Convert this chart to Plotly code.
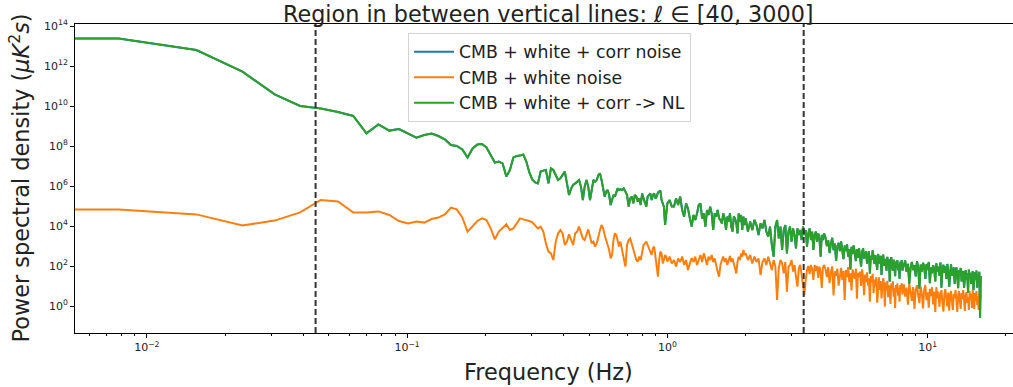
import plotly.graph_objects as go

# ---------------- data (frequencies in Hz, PSD read in decades: log10(uK^2 s)) ----------------
# first entry stands for the DC bin (drawn off the left edge, as matplotlib does with f=0)
freq_low_hz = [0.004, 0.0078, 0.0155, 0.0233, 0.0310, 0.0388, 0.0466, 0.0543, 0.0621, 0.0698, 0.0776,
               0.0854, 0.0931, 0.1009, 0.1086, 0.1164, 0.1242, 0.1319, 0.1397, 0.1474, 0.1552,
               0.1630, 0.1707, 0.1785, 0.1862, 0.1940, 0.2018, 0.2095, 0.2173, 0.2250, 0.2328,
               0.2406, 0.2483, 0.2561, 0.2638, 0.2716, 0.2794, 0.2871, 0.2949, 0.3026, 0.3104,
               0.3182, 0.3259, 0.3337, 0.3414, 0.3492, 0.3570, 0.3647, 0.3725, 0.3802, 0.3880,
               0.3958, 0.4035, 0.4113, 0.4190, 0.4268, 0.4346, 0.4423, 0.4501, 0.4578, 0.4656,
               0.4734, 0.4811, 0.4889, 0.4966, 0.5044, 0.5122, 0.5199, 0.5277, 0.5354, 0.5432,
               0.5510, 0.5587, 0.5665, 0.5742, 0.5820, 0.5898, 0.5975, 0.6053, 0.6130, 0.6208,
               0.6286, 0.6363, 0.6441, 0.6518]

freq_high_hz = [0.66, 0.67, 0.68, 0.69, 0.70, 0.71, 0.72, 0.73, 0.74, 0.75, 0.76, 0.77, 0.78, 0.79, 0.80,
                0.81, 0.82, 0.83, 0.84, 0.85, 0.86, 0.87, 0.88, 0.89, 0.90, 0.91, 0.92, 0.93, 0.94, 0.95,
                0.96, 0.97, 0.98, 0.99, 1.00,
                1.02, 1.04, 1.06, 1.08, 1.10, 1.12, 1.14, 1.16, 1.18, 1.20, 1.22, 1.24, 1.26, 1.28, 1.30,
                1.32, 1.34, 1.36, 1.38, 1.40, 1.42, 1.44, 1.46, 1.48, 1.50, 1.52, 1.54, 1.56, 1.58, 1.60,
                1.62, 1.64, 1.66, 1.68, 1.70, 1.72, 1.74, 1.76, 1.78, 1.80, 1.82, 1.84, 1.86, 1.88, 1.90,
                1.92, 1.94, 1.96, 1.98, 2.00,
                2.04, 2.08, 2.12, 2.16, 2.20, 2.24, 2.28, 2.32, 2.36, 2.40, 2.44, 2.48, 2.52, 2.56, 2.60,
                2.64, 2.68, 2.72, 2.76, 2.80, 2.84, 2.88, 2.92, 2.96, 3.00, 3.04, 3.08, 3.12, 3.16, 3.20,
                3.24, 3.28, 3.32, 3.36, 3.40, 3.44, 3.48, 3.52, 3.56, 3.60, 3.64, 3.68, 3.72, 3.76, 3.80,
                3.84, 3.88, 3.92, 3.96, 4.00,
                4.05, 4.10, 4.15, 4.20, 4.25, 4.30, 4.35, 4.40, 4.45, 4.50, 4.55, 4.60, 4.65, 4.70, 4.75,
                4.80, 4.85, 4.90, 4.95, 5.00, 5.05, 5.10, 5.15, 5.20, 5.25, 5.30, 5.35, 5.40, 5.45, 5.50,
                5.55, 5.60, 5.65, 5.70, 5.75, 5.80, 5.85, 5.90, 5.95, 6.00, 6.05, 6.10, 6.15, 6.20, 6.25,
                6.30, 6.35, 6.40, 6.45, 6.50, 6.55, 6.60, 6.65, 6.70, 6.75, 6.80, 6.85, 6.90, 6.95, 7.00,
                7.05, 7.10, 7.15, 7.20, 7.25, 7.30, 7.35, 7.40, 7.45, 7.50, 7.55, 7.60, 7.65, 7.70, 7.75,
                7.80, 7.85, 7.90, 7.95, 8.00,
                8.1, 8.2, 8.3, 8.4, 8.5, 8.6, 8.7, 8.8, 8.9, 9.0, 9.1, 9.2, 9.3, 9.4, 9.5, 9.6, 9.7, 9.8,
                9.9, 10.0, 10.1, 10.2, 10.3, 10.4, 10.5, 10.6, 10.7, 10.8, 10.9, 11.0, 11.1, 11.2, 11.3,
                11.4, 11.5, 11.6, 11.7, 11.8, 11.9, 12.0, 12.1, 12.2, 12.3, 12.4, 12.5, 12.6, 12.7, 12.8,
                12.9, 13.0, 13.1, 13.2, 13.3, 13.4, 13.5, 13.6, 13.7, 13.8, 13.9, 14.0, 14.1, 14.2, 14.3,
                14.4, 14.5, 14.6, 14.7, 14.8, 14.9, 15.0, 15.1, 15.2, 15.3, 15.4, 15.5, 15.6, 15.7, 15.8,
                15.9, 16.0]

# CMB + white + corr -> NL  (green); the blue series lies exactly underneath it
nl_log10_low = [13.38, 13.38, 12.8, 11.72, 10.58, 10.0, 9.88, 9.7, 9.5, 8.63, 9.08,
                8.77, 8.85, 8.63, 8.42, 8.55, 8.62, 8.5, 8.33, 8.05, 8.0,
                7.83, 7.42, 7.88, 8.08, 8.1, 7.93, 7.55, 7.17, 7.22, 7.13,
                6.47, 6.8, 7.43, 7.5, 7.52, 7.58, 7.22, 6.68, 6.33, 6.18,
                6.13, 6.72, 6.77, 6.8, 6.13, 6.88, 6.8, 6.55, 6.3, 6.38,
                6.55, 6.72, 6.13, 5.55, 5.88, 6.05, 6.13, 6.22, 6.3, 5.97,
                5.3, 5.97, 6.3, 5.97, 5.3, 5.8, 6.3, 6.22, 6.3, 6.55,
                6.63, 6.3, 5.8, 5.47, 5.72, 5.8, 5.55, 5.05, 5.3, 5.55,
                5.47, 5.72, 5.88, 5.8]
nl_log10_high = [5.83, 5.8, 5.88, 5.72, 5.55, 4.97, 5.38, 5.47, 5.13, 5.55,
                 5.47, 5.22, 5.38, 5.05, 5.63, 5.38, 5.13, 4.97, 5.47, 5.55,
                 5.63, 5.3, 5.55, 5.63, 5.38, 5.47, 5.67, 5.72, 5.77, 5.3,
                 5.13, 4.97, 4.05, 4.8, 5.13,
                 5.3, 4.97, 4.97, 5.38, 5.05, 5.47, 4.8, 4.47, 5.13, 4.88,
                 4.38, 3.97, 4.55, 4.3, 4.63, 5.05, 5.13, 4.38, 4.63, 3.97,
                 4.8, 4.55, 4.97, 4.63, 3.8, 4.63, 4.47, 4.8, 4.38, 4.3,
                 4.13, 4.63, 4.38, 3.8, 4.47, 4.22, 4.63, 3.97, 3.72, 4.47,
                 4.38, 4.13, 3.63, 4.63, 4.22, 4.55, 3.8, 4.47, 4.05, 4.38,
                 3.72, 4.22, 3.8, 4.3, 4.05, 3.55, 4.13, 3.88, 4.3, 3.72,
                 3.47, 3.97, 3.05, 2.47, 3.97, 4.3, 3.38, 3.97, 2.8, 3.8,
                 4.05, 2.63, 3.72, 3.97, 3.22, 3.88, 3.55, 2.88, 3.88, 3.55,
                 3.8, 3.3, 3.97, 3.55, 3.8, 2.97, 3.63, 3.88, 3.3, 3.72,
                 2.8, 3.55, 3.72, 3.22, 3.63, 3.38, 2.47, 3.55, 3.3, 3.63,
                 3.42, 3.0, 3.28, 2.65, 3.13, 3.41, 2.79, 3.12, 2.25, 2.98,
                 3.16, 2.74, 3.23, 2.86, 2.34, 3.02, 2.75, 3.08, 2.47, 2.85,
                 1.83, 2.96, 2.6, 3.03, 2.71, 2.25, 2.83, 2.41, 2.9, 2.53,
                 1.97, 2.7, 2.88, 2.37, 2.6, 2.74, 2.12, 2.46, 2.74, 1.63,
                 2.51, 2.3, 2.78, 2.42, 2.11, 2.54, 2.28, 1.81, 2.6, 2.39,
                 2.12, 2.51, 1.55, 2.23, 2.57, 2.01, 2.34, 2.23, 1.77, 2.46,
                 2.04, 2.33, 1.22, 2.21, 2.44, 2.03, 1.77, 2.31, 2.1, 1.49,
                 2.22, 1.91, 2.3, 1.79, 2.08, 1.37, 2.21, 1.95, 2.29, 1.78,
                 2.02, 2.27, 1.71, 2.11, 1.1, 1.9, 2.2, 1.79, 2.04, 1.48,
                 2.23, 1.93, 0.87, 2.07, 1.72, 2.16, 1.96, 1.36, 2.1, 1.8,
                 2.2, 1.14, 1.94, 1.64, 2.04, 1.83, 1.23, 2.13, 1.72, 1.97,
                 1.52, 2.17, 0.91, 1.86, 2.06, 1.66, 2.0, 1.35, 2.1, 1.78,
                 0.96, 1.9, 2.08, 1.51, 1.79, 1.93, 1.11, 1.65, 1.93, 1.51,
                 0.89, 1.78, 1.61, 1.9, 1.23, 1.62, 1.75, 0.9, 1.44, 1.79,
                 1.33, 1.63, 0.67, 1.82, 1.46, 1.66, 1.1, 1.55, 1.74, 0.79,
                 1.49, 1.68, 1.33, 1.77, 0.92, 1.56, 1.41, 1.71, -0.6, 1.5]

# CMB + white noise (orange)
white_log10_low = [4.83, 4.83, 4.58, 4.03, 4.27, 4.68, 5.3, 5.23, 4.67, 4.67, 4.73,
                   4.55, 4.25, 4.13, 4.22, 4.17, 4.35, 4.42, 4.58, 4.92, 4.83,
                   4.43, 3.72, 3.97, 4.25, 4.38, 4.3, 3.88, 3.33, 3.72, 3.88,
                   4.08, 3.8, 3.88, 4.13, 4.38, 4.33, 4.3, 4.25, 4.18, 4.05,
                   3.88, 3.97, 3.72, 3.13, 2.72, 2.63, 2.3, 3.22, 3.63, 3.8,
                   3.63, 3.05, 3.22, 3.58, 3.3, 3.05, 3.63, 3.72, 3.97, 3.72,
                   3.38, 3.3, 3.55, 3.83, 3.47, 3.13, 3.22, 2.97, 3.13, 3.55,
                   3.8, 4.05, 3.88, 3.55, 3.3, 2.97, 2.8, 2.38, 2.55, 3.3,
                   3.63, 3.55, 3.3, 2.97]
white_log10_high = [3.22, 2.8, 2.3, 1.97, 3.05, 3.3, 3.38, 3.13, 2.88, 2.63,
                    2.3, 2.22, 2.47, 2.3, 2.72, 3.05, 3.13, 3.22, 3.05, 2.88,
                    2.8, 2.55, 2.88, 2.97, 2.47, 1.8, 1.47, 2.3, 2.72, 2.63,
                    2.13, 2.3, 2.55, 2.47, 2.22,
                    2.47, 2.13, 2.3, 1.97, 2.38, 2.2, 2.47, 2.05, 2.3, 1.8,
                    2.13, 2.4, 2.2, 2.47, 2.05, 2.3, 2.55, 2.2, 2.63, 2.38,
                    2.05, 2.47, 2.3, 2.55, 2.2, 2.38, 1.97, 1.72, 1.47, 2.05,
                    2.3, 2.47, 2.2, 2.38, 2.05, 2.3, 2.5, 2.2, 2.38, 2.13,
                    1.9, 1.63, 2.2, 2.47, 2.3, 2.63, 2.47, 2.8, 2.55, 2.63,
                    2.3, 2.55, 2.13, 2.47, 2.2, 2.38, 1.55, 2.2, 2.38, 2.05,
                    2.47, 2.13, 1.8, 2.3, 1.97, 0.3, 1.9, 2.3, 2.13, 1.63,
                    2.2, 0.72, 1.97, 2.05, 2.3, 1.72, 2.05, 1.47, 0.97, 1.9,
                    2.05, 1.55, 1.1, 0.55, 1.3, 1.8, 2.0, 1.6, 2.05, 1.85,
                    1.3, 2.05, 1.75, 2.0, 1.4, 1.97, 1.7, 0.9, 1.9, 2.05,
                    1.85, 1.45, 1.94, 1.14, 1.69, 1.98, 0.53, 1.73, 1.52, 1.87,
                    1.02, 1.61, 1.91, 1.31, 1.75, 0.3, 1.8, 1.44, 1.94, 1.19,
                    1.63, 0.78, 1.83, 1.52, 1.37, 1.87, 0.37, 1.66, 1.44, 1.72,
                    1.0, 1.83, 1.46, 0.54, 1.57, 1.2, 1.68, 1.01, 1.39, 0.22,
                    1.5, 1.18, 1.61, 0.64, 1.32, 1.0, 1.44, 0.17, 1.15, 1.43,
                    0.81, 1.25, 0.38, 0.96, 1.39, 1.08, -0.04, 1.19, 0.78, 1.26,
                    0.44, 1.03, 0.86, 0.1, 1.14, 0.78, 1.23, 0.47, 0.91, -0.1,
                    1.05, 0.69, 1.13, 0.52, 0.92, 0.21, 1.05, 0.75, 1.14, 0.58,
                    1.08, 0.47, 0.92, 0.07, 1.11, 0.71, 0.26, 0.95, -0.15, 0.8,
                    1.04, 0.54, 0.14, 0.98, 0.63, -0.12, 0.82, 1.05, 0.29, 0.68,
                    -0.08, 0.86, 0.5, 0.94, 0.08, 0.71, -0.3, 0.94, 0.38, 0.72,
                    -0.04, 0.55, 0.79, 0.18, -0.28, 0.61, 0.85, 0.39, -0.02, 0.67,
                    -0.24, 0.5, 0.75, 0.2, -0.2, 0.6, 0.4, 0.8, 0.05, -0.3,
                    0.55, 0.75, 0.25, -0.15, 0.65, 0.35, 0.8, 0.0, -0.25, 0.55,
                    0.7, 0.15, 0.45, -0.2, 0.75, 0.3, 0.6, -0.1, 0.8, 0.45,
                    -0.15, 0.65, 0.25, 0.75, 0.05, 0.5, -0.2, 0.65, 0.8, 0.4]

series_names = ["CMB + white + corr noise", "CMB + white noise", "CMB + white + corr -> NL"]
series_colors = ["#1f77b4", "#ff7f0e", "#2ca02c"]

vline_freqs_hz = [0.0445, 3.34]          # ell = 40 and ell = 3000

x_tick_vals = [0.01, 0.1, 1, 10]
x_tick_text = ["10<sup>\u22122</sup>", "10<sup>\u22121</sup>", "10<sup>0</sup>", "10<sup>1</sup>"]
x_minor_vals = [0.006, 0.007, 0.008, 0.009, 0.02, 0.03, 0.04, 0.05, 0.06, 0.07, 0.08, 0.09,
                0.2, 0.3, 0.4, 0.5, 0.6, 0.7, 0.8, 0.9, 2, 3, 4, 5, 6, 7, 8, 9, 20]
y_tick_vals = [1e0, 1e2, 1e4, 1e6, 1e8, 1e10, 1e12, 1e14]
y_tick_text = ["10<sup>0</sup>", "10<sup>2</sup>", "10<sup>4</sup>", "10<sup>6</sup>",
               "10<sup>8</sup>", "10<sup>10</sup>", "10<sup>12</sup>", "10<sup>14</sup>"]

# ---------------- build ----------------
freq = freq_low_hz + freq_high_hz
nl_log10 = nl_log10_low + nl_log10_high
white_log10 = white_log10_low + white_log10_high
corr_log10 = nl_log10  # identical to the NL series (hidden underneath it)
assert len(freq) == len(nl_log10) == len(white_log10), (len(freq), len(nl_log10), len(white_log10))

series_log10 = [corr_log10, white_log10, nl_log10]

fig = go.Figure()
for name, color, vals in zip(series_names, series_colors, series_log10):
    fig.add_trace(go.Scatter(
        x=freq, y=[10 ** v for v in vals], mode="lines", name=name,
        line=dict(color=color, width=2), hoverinfo="skip"))

for f in vline_freqs_hz:
    fig.add_shape(type="line", xref="x", yref="paper", x0=f, x1=f, y0=0, y1=1,
                  line=dict(color="#333333", width=2, dash="6px,3px"))

PLOT_L, PLOT_T, W, H = 75, 24, 1013, 387
PLOT_B = 333
plot_w = W - PLOT_L
plot_h = PLOT_B - PLOT_T
TXT = "#222222"

fig.update_layout(
    width=W, height=H,
    margin=dict(l=PLOT_L, r=0, t=PLOT_T, b=H - PLOT_B, pad=0),
    paper_bgcolor="white", plot_bgcolor="white",
    font=dict(family="DejaVu Sans", color=TXT),
    showlegend=True,
    legend=dict(x=(408 - PLOT_L) / plot_w, y=(PLOT_B - 33) / plot_h,
                xanchor="left", yanchor="top",
                bgcolor="rgba(255,255,255,0.85)", bordercolor="#d4d4d4", borderwidth=1,
                font=dict(size=17.3, color=TXT), itemwidth=40),
    xaxis=dict(type="log", range=[-2.276, 1.328], showgrid=False, zeroline=False,
               showline=True, linecolor="black", linewidth=1, mirror=True,
               ticks="outside", ticklen=4, tickwidth=1, tickcolor="black",
               tickvals=x_tick_vals, ticktext=x_tick_text,
               tickfont=dict(size=11, color=TXT),
               minor=dict(ticks="outside", ticklen=2, tickwidth=1, tickcolor="black",
                          tickvals=x_minor_vals, showgrid=False)),
    yaxis=dict(type="log", range=[-1.35, 14.1], showgrid=False, zeroline=False,
               showline=True, linecolor="black", linewidth=1,
               ticks="outside", ticklen=4, tickwidth=1, tickcolor="black",
               tickvals=y_tick_vals, ticktext=y_tick_text,
               tickfont=dict(size=11, color=TXT)),
)

# title (placed as an annotation so its position is exact)
fig.add_annotation(text="Region in between vertical lines: <i>\u2113</i> \u2208 [40, 3000]",
                   xref="paper", yref="paper",
                   x=(548 - PLOT_L) / plot_w, y=(PLOT_B - 13.5) / plot_h,
                   xanchor="center", yanchor="middle", showarrow=False,
                   font=dict(size=22.3, color=TXT))
fig.add_annotation(text="Frequency (Hz)", xref="paper", yref="paper",
                   x=(548 - PLOT_L) / plot_w, y=(PLOT_B - 372) / plot_h,
                   xanchor="center", yanchor="middle", showarrow=False,
                   font=dict(size=22.4, color=TXT))
fig.add_annotation(text="Power spectral density (<i>\u03bcK</i><sup>2</sup><i>s</i>)",
                   xref="paper", yref="paper",
                   x=(19 - PLOT_L) / plot_w, y=0.5, textangle=-90,
                   xanchor="center", yanchor="middle", showarrow=False,
                   font=dict(size=22.4, color=TXT))

fig.write_html("out.html")
